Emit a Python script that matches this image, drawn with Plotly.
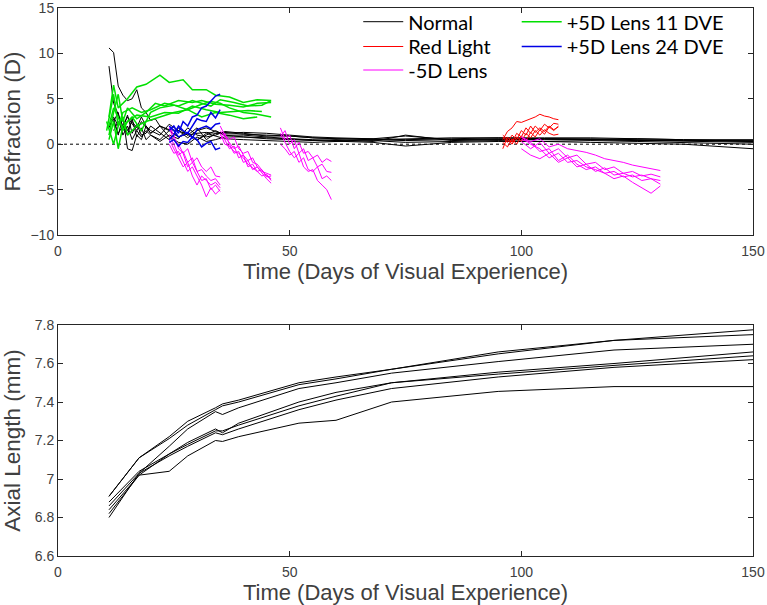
import plotly.graph_objects as go

# ---------------- Refraction data (top panel) ----------------
normal_days = [
    [11,12,13,14,15,16,17,18,19,20,21,22,24,26,28,30,32,34,36,40,45,50,55,60,68,75,85,95,105,115,125,135,150],
    [11,12,13,14,15,16,17,18,19,20,22,24,26,28,30,32,34,36,40,45,50,55,60,68,75,85,95,105,115,125,135,150],
    [11,12,13,14,15,16,17,18,19,20,22,24,26,28,30,32,34,36,40,45,50,55,60,68,75,85,95,105,115,125,135,150],
    [11,12,13,14,15,16,17,18,19,20,22,24,26,28,30,32,34,36,40,45,50,55,60,68,75,85,95,105,115,125,135,150],
    [11,12,13,14,15,16,17,18,19,20,22,24,26,28,30,32,34,36,40,45,50,55,60,68,75,85,95,105,115,125,135,150],
    [12,13,14,15,16,17,18,19,20,22,24,26,28,30,32,34,36,40,45,50,55,60,68,75,85,95,105,115,125,135,150],
    [12,13,14,15,16,17,18,19,20,22,24,26,28,30,32,34,36,40,45,50,55,60,68,75,85,95,105,115,125,135,150],
]
normal_vals = [
    [10.6,10.1,6.4,5.4,4.8,5.0,6.0,4.0,3.5,2.6,2.8,2.0,1.6,1.5,1.0,1.2,1.3,1.2,1.3,1.1,1.0,0.9,0.7,0.6,0.6,0.9,0.5,0.6,0.5,0.5,0.4,0.4,0.3],
    [8.6,4.5,3.3,2.0,3.0,2.2,1.5,2.5,1.8,1.2,2.0,1.5,0.8,1.2,0.5,1.0,1.5,1.0,0.8,0.7,0.6,0.4,0.5,0.3,1.0,0.4,0.5,0.6,0.5,0.6,0.5,0.3],
    [3.0,2.5,3.5,1.0,2.0,0.5,1.5,0.8,1.5,1.0,0.3,1.0,0.6,1.8,1.0,0.8,1.0,1.4,1.2,0.9,0.9,0.7,0.6,0.5,0.4,0.5,0.5,0.6,0.5,0.4,0.3,0.2],
    [2.0,2.8,1.0,3.0,-0.5,-0.7,1.0,0.5,2.0,1.2,2.0,0.8,0.2,0.0,0.8,0.3,0.5,0.8,0.8,0.6,0.5,0.4,0.3,0.2,-0.2,0.2,0.3,0.3,0.2,0.1,0.0,-0.5],
    [1.8,3.0,2.0,2.8,1.5,2.5,1.8,3.0,2.0,1.5,1.0,2.2,1.5,0.7,1.5,1.8,1.4,1.0,1.0,0.8,0.6,0.5,0.4,0.5,0.6,0.7,0.7,0.6,0.6,0.5,0.4,0.4],
    [2.5,1.2,2.0,1.0,2.8,0.8,1.8,0.5,1.0,0.5,1.5,0.8,1.2,0.4,1.2,0.9,0.6,0.5,0.4,0.3,0.2,0.3,0.4,0.2,0.3,0.4,0.3,0.4,0.3,0.2,0.0],
    [1.5,2.5,1.8,3.2,1.2,2.2,1.0,1.2,2.0,1.2,0.5,1.8,1.0,1.8,0.5,1.2,1.2,1.3,1.2,1.0,0.8,0.7,0.6,0.5,0.6,0.7,0.7,0.7,0.6,0.5,0.5],
]

red_days = [96,97,98,99,100,101,102,103,104,105,106,107,108]
red_vals = [
    [0.5,1.4,1.8,2.5,2.4,2.6,2.8,3.0,3.3,3.1,3.0,2.8,2.7],
    [-0.5,0.8,0.2,1.2,0.8,1.8,1.2,2.0,1.5,2.2,1.8,2.3,2.2],
    [0.8,0.2,1.0,0.5,1.5,1.0,2.0,1.3,1.8,1.4,2.0,1.6,1.9],
    [1.0,0.5,0.0,0.8,0.3,1.2,0.7,1.5,1.0,1.6,1.2,1.0,1.1],
    [0.2,-0.3,0.6,0.0,0.9,0.4,1.3,0.8,1.6,1.1,1.9,1.5,2.0],
]

minus_days = [
    [24,25,26,27,28,29,30,31,32,33,34,35],
    [35,36,37,38,39,40,41,42,43,44,45,46],
    [48,49,50,51,52,53,54,55,56,57,58,59],
    [100,102,104,106,108,110,112,114,116,118,120,122,124,126,128,130],
]
minus_vals = [
    [
        [1.8,0.5,0.0,-1.0,-0.5,-2.0,-1.5,-2.5,-3.0,-2.5,-3.5,-3.6],
        [1.0,0.0,-1.2,-0.8,-2.0,-1.5,-3.0,-2.8,-3.5,-4.0,-3.8,-4.5],
        [0.5,-0.5,-1.5,-2.5,-2.0,-3.5,-4.5,-3.5,-4.0,-4.5,-4.2,-4.8],
        [2.0,1.0,-0.5,-1.0,-2.5,-2.0,-3.0,-4.0,-3.8,-5.0,-4.5,-5.2],
        [0.0,-1.0,-0.8,-2.0,-3.0,-2.5,-3.5,-4.5,-5.8,-4.8,-5.5,-5.0],
    ],
    [
        [1.5,0.8,0.2,-0.5,-0.2,-1.2,-1.8,-1.5,-2.5,-3.0,-3.2,-3.4],
        [2.0,1.0,0.5,0.8,-0.5,-1.0,-0.8,-2.0,-2.2,-2.8,-3.5,-3.8],
        [1.0,0.5,-0.5,-0.2,-1.5,-1.2,-2.5,-2.2,-3.0,-3.5,-3.3,-4.0],
        [0.5,1.2,0.0,-1.0,-0.8,-2.0,-1.8,-2.8,-2.5,-3.2,-3.8,-4.3],
        [1.2,0.0,-0.2,-0.8,-1.0,-1.5,-2.2,-2.6,-3.0,-2.8,-3.6,-3.5],
    ],
    [
        [1.8,0.5,1.0,-0.5,0.2,-1.0,-0.8,-1.5,-1.2,-2.0,-1.6,-1.9],
        [0.8,1.5,0.0,0.5,-1.0,-0.5,-1.8,-1.5,-2.5,-2.2,-3.0,-3.1],
        [0.0,-0.5,-1.2,-0.8,-2.0,-1.5,-2.8,-3.0,-2.5,-3.8,-3.5,-4.0],
        [1.2,0.2,-0.8,-1.5,-1.0,-2.5,-3.0,-2.8,-4.0,-4.5,-5.0,-6.1],
    ],
    [
        [0.8,0.3,0.6,-0.3,0.0,-0.5,-0.7,-0.9,-1.2,-1.6,-1.8,-2.0,-2.3,-2.5,-2.7,-2.9],
        [0.3,-0.5,0.2,-1.0,-0.5,-1.5,-1.2,-2.2,-2.0,-2.8,-2.5,-3.2,-3.0,-3.5,-3.3,-3.6],
        [-0.5,-1.2,-1.6,-1.0,-2.0,-1.5,-2.5,-2.2,-3.0,-2.6,-3.4,-3.2,-3.6,-3.4,-3.8,-4.0],
        [0.8,0.0,-0.5,-1.5,-1.0,-2.0,-1.8,-2.5,-2.8,-3.2,-3.0,-3.6,-3.4,-4.0,-3.8,-4.4],
        [0.5,0.2,-0.8,-0.5,-1.8,-1.2,-2.2,-2.8,-2.5,-3.2,-3.8,-3.5,-4.2,-4.8,-5.4,-4.6],
    ],
]

plus11_days = [
    [11,12,13,14,15,17,19,22,24,27,29,32,34,37,40,43,46],
    [10.5,12,13,14,16,18,20,23,26,29,31,33,35,38,41,44,46],
    [11,12,13,14,15,17,20,23,26,29,32,35,38,41,44],
    [11,12,13,14,16,18,20,22,25,28,31,34,37,40,43],
    [10.5,12,13,14,15,17,19,22,25,28,31,33,35,37,40,43,46],
    [11,12,13,14,15,17,19,21,23,26,29,31,34,37,40,43,46],
]
plus11_vals = [
    [3.0,6.5,4.0,4.5,5.0,6.3,6.6,7.6,6.8,7.1,6.0,6.0,5.4,5.2,4.6,4.9,4.8],
    [1.5,5.5,2.0,3.5,4.0,3.5,3.8,4.5,4.2,4.8,4.5,4.2,4.9,4.6,4.2,4.3,4.8],
    [2.0,4.0,3.0,1.5,2.5,3.2,3.0,3.5,3.4,4.2,3.8,3.5,3.6,3.7,3.6],
    [0.5,2.5,-0.5,2.0,3.0,1.5,3.5,4.0,4.3,3.8,3.0,3.5,3.2,2.8,3.0],
    [2.5,0.0,2.0,3.0,1.0,2.0,2.5,3.0,3.5,3.8,4.4,4.7,4.5,4.0,3.5,3.3,3.0],
    [1.0,3.5,5.5,2.5,4.0,2.8,3.5,4.5,4.2,4.8,4.6,4.8,4.4,4.3,4.1,4.5,4.6],
]

plus24_days = [24,25,26,27,28,29,30,31,32,33,34,35]
plus24_vals = [
    [1.5,2.0,1.2,2.5,2.0,3.0,3.2,4.0,4.2,4.8,5.3,5.5],
    [0.5,1.0,2.0,1.5,1.2,2.0,2.8,2.6,2.5,3.5,2.9,3.8],
    [2.0,1.5,0.8,1.0,1.3,0.7,1.6,1.8,2.0,1.7,2.2,2.3],
    [0.2,0.5,-0.2,0.3,0.2,0.8,0.5,-0.3,0.1,0.3,-0.6,-0.4],
]

# ---------------- Axial length data (bottom panel) ----------------
axial_days = [11,17.5,24,28,34,35.5,39,52,60,72,95,120,150]
axial_vals = [
    [6.91,7.11,7.22,7.30,7.37,7.39,7.41,7.50,7.53,7.57,7.66,7.72,7.775],
    [6.91,7.11,7.21,7.28,7.36,7.38,7.40,7.49,7.52,7.57,7.65,7.72,7.75],
    [6.86,7.03,7.17,7.26,7.35,7.335,7.37,7.47,7.50,7.55,7.61,7.67,7.70],
    [6.88,7.04,7.13,7.19,7.26,7.24,7.29,7.40,7.45,7.50,7.555,7.60,7.66],
    [6.82,7.02,7.13,7.18,7.25,7.25,7.28,7.38,7.43,7.50,7.545,7.59,7.64],
    [6.80,7.03,7.12,7.17,7.24,7.23,7.26,7.36,7.41,7.47,7.53,7.58,7.62],
    [6.84,7.02,7.04,7.12,7.20,7.195,7.22,7.29,7.305,7.40,7.455,7.48,7.48],
]

x_range = [0, 150]
x_ticks = [0, 50, 100, 150]
ref_ticks = [-10, -5, 0, 5, 10, 15]
axial_ticks = [6.6, 6.8, 7.0, 7.2, 7.4, 7.6, 7.8]
axial_ticktext = ["6.6", "6.8", "7", "7.2", "7.4", "7.6", "7.8"]
zero_line_x = [0, 150]
zero_line_y = [0, 0]

# ---------------- styles ----------------
C_NORMAL = "#000000"
C_RED = "#ff0000"
C_MINUS = "#ff00ff"
C_PLUS11 = "#00e000"
C_PLUS24 = "#0000e6"
AX_COLOR = "#262626"
TXT_COLOR = "#404040"
TICK_FONT = dict(family="Liberation Sans, Arial, sans-serif", size=14, color=TXT_COLOR)
YTITLE_FONT = dict(family="Liberation Sans, Arial, sans-serif", size=22.5, color=TXT_COLOR)
XTITLE_FONT = dict(family="Liberation Sans, Arial, sans-serif", size=22, color=TXT_COLOR)
LEG_FONT = dict(family="Lato, Open Sans, sans-serif", size=20, color="#000000")

fig = go.Figure()

# dotted zero reference
fig.add_trace(go.Scatter(x=zero_line_x, y=zero_line_y, mode="lines",
                         line=dict(color="#000000", width=1, dash="dot"),
                         showlegend=False, hoverinfo="skip", xaxis="x", yaxis="y"))

def add_group(days_list, vals_list, name, color, width, legend):
    for i, (d, v) in enumerate(zip(days_list, vals_list)):
        fig.add_trace(go.Scatter(
            x=d, y=v, mode="lines", name=name, legendgroup=name,
            showlegend=(i == 0), legend=legend,
            line=dict(color=color, width=width), xaxis="x", yaxis="y"))

add_group(normal_days, normal_vals, "Normal", C_NORMAL, 1, "legend")
add_group([red_days] * len(red_vals), red_vals, "Red Light", C_RED, 1, "legend2")
m_days, m_vals = [], []
for d, grp in zip(minus_days, minus_vals):
    for v in grp:
        m_days.append(d)
        m_vals.append(v)
add_group(m_days, m_vals, "-5D Lens", C_MINUS, 1, "legend3")
add_group(plus11_days, plus11_vals, "+5D Lens 11 DVE", C_PLUS11, 1.5, "legend4")
add_group([plus24_days] * len(plus24_vals), plus24_vals, "+5D Lens 24 DVE", C_PLUS24, 1.5, "legend5")

for v in axial_vals:
    fig.add_trace(go.Scatter(x=axial_days, y=v, mode="lines",
                             line=dict(color="#000000", width=1),
                             showlegend=False, xaxis="x2", yaxis="y2"))

axis_common = dict(showline=True, mirror="ticks", linecolor=AX_COLOR, linewidth=1,
                   ticks="inside", ticklen=5, tickcolor=AX_COLOR, tickwidth=1,
                   showgrid=False, zeroline=False, tickfont=TICK_FONT)

M_T, M_B = 8, 49
H_PLOT = 605 - M_T - M_B

def ypaper(py):
    return 1 - (py - M_T) / H_PLOT

def leg(xp, py):
    return dict(x=xp, y=ypaper(py), xanchor="left", yanchor="middle", font=LEG_FONT,
                bgcolor="rgba(0,0,0,0)", borderwidth=0, tracegroupgap=0, itemwidth=40)

fig.update_layout(
    width=767, height=605,
    margin=dict(l=58, r=14, t=M_T, b=M_B, autoexpand=False),
    plot_bgcolor="white", paper_bgcolor="white",
    xaxis=dict(domain=[0, 1], range=x_range, anchor="y", tickvals=x_ticks,
               ticklabelstandoff=3, ticklabeloverflow="allow",
               title=dict(text="Time (Days of Visual Experience)", font=XTITLE_FONT, standoff=3),
               **axis_common),
    yaxis=dict(domain=[ypaper(235), 1], range=[-10, 15], anchor="x", tickvals=ref_ticks,
               ticklabeloverflow="allow",
               title=dict(text="Refraction (D)", font=YTITLE_FONT, standoff=7),
               **axis_common),
    xaxis2=dict(domain=[0, 1], range=x_range, anchor="y2", tickvals=x_ticks,
                ticklabelstandoff=3, ticklabeloverflow="allow",
                title=dict(text="Time (Days of Visual Experience)", font=XTITLE_FONT, standoff=3),
                **axis_common),
    yaxis2=dict(domain=[0, ypaper(325)], range=[6.6, 7.8], anchor="x2",
                tickvals=axial_ticks, ticktext=axial_ticktext, ticklabeloverflow="allow",
                title=dict(text="Axial Length (mm)", font=YTITLE_FONT, standoff=7),
                **axis_common),
    legend=leg(0.432, 21.7),
    legend2=leg(0.432, 46.5),
    legend3=leg(0.432, 70),
    legend4=leg(0.660, 21.7),
    legend5=leg(0.660, 46.5),
    showlegend=True,
)

fig.write_html("out.html", config={"displayModeBar": False},
               post_script="document.body.style.margin='0px';")
